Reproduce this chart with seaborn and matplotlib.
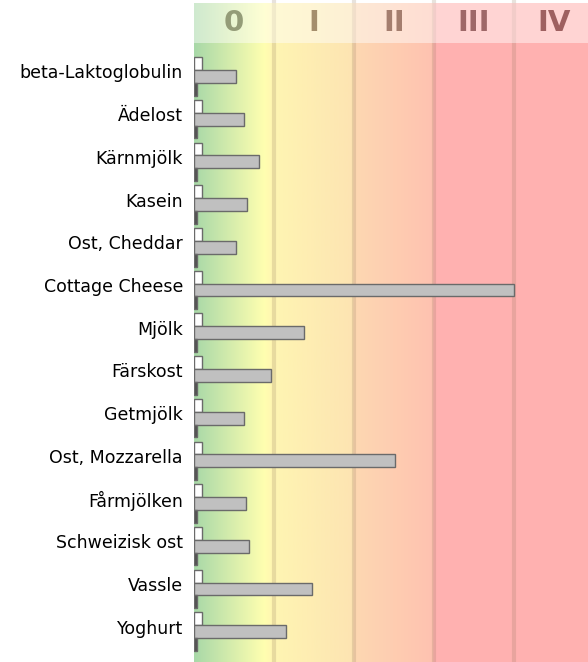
import numpy as np
import pandas as pd
import matplotlib
matplotlib.use("Agg")
import matplotlib.pyplot as plt
import matplotlib.transforms as mtransforms
import seaborn as sns

foods = ["beta-Laktoglobulin", "Ädelost", "Kärnmjölk", "Kasein", "Ost, Cheddar",
         "Cottage Cheese", "Mjölk", "Färskost", "Getmjölk", "Ost, Mozzarella",
         "Fårmjölken", "Schweizisk ost", "Vassle", "Yoghurt"]
white_vals = [0.1] * 14
gray_vals = [0.53, 0.63, 0.81, 0.66, 0.53, 4.0, 1.38, 0.96, 0.63, 2.51, 0.65, 0.69, 1.48, 1.15]
dark_vals = [0.04] * 14
classes = ["0", "I", "II", "III", "IV"]
class_colors = ["#949c78", "#a48e6c", "#a47e6e", "#9e6868", "#9e6060"]

df = pd.DataFrame({
    "food": foods * 3,
    "value": white_vals + gray_vals + dark_vals,
    "series": ["a"] * 14 + ["b"] * 14 + ["c"] * 14,
})

sns.set_style("white")
fig = plt.figure(figsize=(5.88, 6.62), dpi=100)
ax = fig.add_axes([194 / 588, 0, 1 - 194 / 588, 1])

xmax = 4.93
ytop, ybot = -1.79, 13.71

# background gradient
stops = [(0.0, "#a8d8a8"), (0.88, "#ffffb0"), (1.0, "#fff5b2"), (1.99, "#fde4b2"),
         (2.0, "#fdd8b2"), (2.99, "#ffc2b0"), (3.0, "#ffb2b0"), (xmax, "#ffb1b1")]
xs = np.linspace(0, xmax, 800)
sx = [s[0] for s in stops]
rgb = np.array([matplotlib.colors.to_rgb(s[1]) for s in stops])
img = np.stack([np.interp(xs, sx, rgb[:, k]) for k in range(3)], axis=-1)[None, :, :]
ax.imshow(img, extent=[0, xmax, ybot, ytop + 3 / 42.7], aspect="auto", zorder=0)

for b in range(1, 5):
    ax.axvline(b, color=(0.55, 0.45, 0.35), alpha=0.2, lw=3, zorder=1)

sns.barplot(data=df, y="food", x="value", hue="series", hue_order=["a", "b", "c"],
            palette=["#ffffff", "#c0c0c0", "#505050"], orient="h", width=0.9,
            edgecolor="#6a6a6a", linewidth=1, legend=False, ax=ax, zorder=2)

ax.set_xlim(0, xmax)
ax.set_ylim(ybot, ytop)
ax.set_xlabel("")
ax.set_ylabel("")
ax.set_xticks([])
ax.tick_params(axis="y", length=0, pad=8, labelsize=12.5, labelcolor="black")
shift = mtransforms.ScaledTranslation(0, 5 / 100, fig.dpi_scale_trans)
for lab in ax.get_yticklabels():
    lab.set_transform(lab.get_transform() + shift)
for s in ax.spines.values():
    s.set_visible(False)

# header band
ax.add_patch(plt.Rectangle((0, 1 - 43 / 662), 1, 40 / 662, transform=ax.transAxes,
                           facecolor="white", alpha=0.45, edgecolor="none", zorder=3))
for i, c in enumerate(classes):
    ax.text(i + 0.5, 1 - 23 / 662, c, transform=ax.get_xaxis_transform(),
            ha="center", va="center", fontsize=21, fontweight="bold",
            color=class_colors[i], zorder=4)

fig.savefig("out.png", dpi=100)
